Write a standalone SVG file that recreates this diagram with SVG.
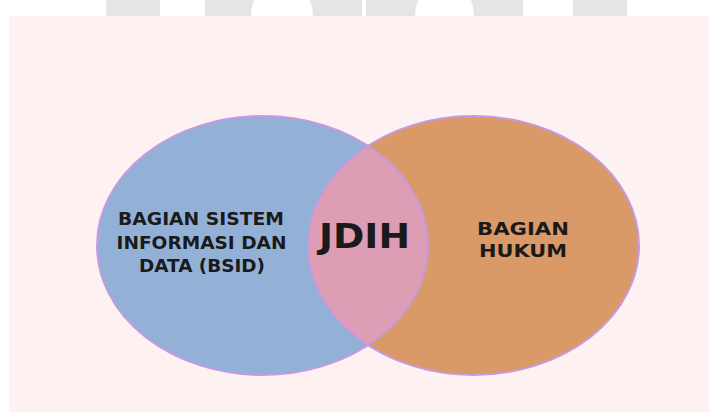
<svg xmlns="http://www.w3.org/2000/svg" width="709" height="412" viewBox="0 0 709 412">
  <style>
    .wm { fill: #e5e5e5; }
    .lbl { font-family: "DejaVu Sans", "Liberation Sans", sans-serif; font-weight: bold; fill: #1a1a1a; text-anchor: middle; }
    .edge { fill: none; stroke: #c59ae2; stroke-width: 2; }
  </style>
  <rect x="0" y="0" width="709" height="412" fill="#ffffff"/>
  <g id="watermark">
    <rect class="wm" x="106" y="0" width="54" height="17"/>
    <path class="wm" d="M205,0 H254 Q251,8 251,17 H205 Z"/>
    <path class="wm" d="M310,0 H362 V17 H313 Q313,8 310,0 Z"/>
    <path class="wm" d="M366,0 H418 Q415,8 415,17 H366 Z"/>
    <path class="wm" d="M471,0 H523 V17 H474 Q474,8 471,0 Z"/>
    <rect class="wm" x="573" y="0" width="54" height="17"/>
  </g>
  <rect id="background" x="9" y="16" width="700" height="396" fill="#fef1f1"/>
  <g id="bsid">
    <ellipse cx="262.5" cy="245.5" rx="165.5" ry="129.5" fill="#93b1d6"/>
  </g>
  <g id="hukum">
    <ellipse cx="473.5" cy="245.5" rx="165.5" ry="129.5" fill="#da9a68"/>
  </g>
  <g id="jdih">
    <path d="M368,145.72 A165.5,129.5 0 0 1 368,345.28 A165.5,129.5 0 0 1 368,145.72 Z" fill="#dd9db5"/>
  </g>
  <g id="connectors">
    <ellipse class="edge" cx="262.5" cy="245.5" rx="165.5" ry="129.5"/>
    <ellipse class="edge" cx="473.5" cy="245.5" rx="165.5" ry="129.5"/>
  </g>
  <g id="labels">
    <text class="lbl" x="201" y="224.5" font-size="17" textLength="166" lengthAdjust="spacingAndGlyphs">BAGIAN SISTEM</text>
    <text class="lbl" x="201.5" y="249" font-size="17" textLength="170" lengthAdjust="spacingAndGlyphs">INFORMASI DAN</text>
    <text class="lbl" x="202" y="272" font-size="17" textLength="126" lengthAdjust="spacingAndGlyphs">DATA (BSID)</text>
    <text class="lbl" x="364.5" y="248" font-size="34" textLength="91" lengthAdjust="spacingAndGlyphs">JDIH</text>
    <text class="lbl" x="523" y="234.5" font-size="17" textLength="92" lengthAdjust="spacingAndGlyphs">BAGIAN</text>
    <text class="lbl" x="523" y="257" font-size="17" textLength="88" lengthAdjust="spacingAndGlyphs">HUKUM</text>
  </g>
</svg>
